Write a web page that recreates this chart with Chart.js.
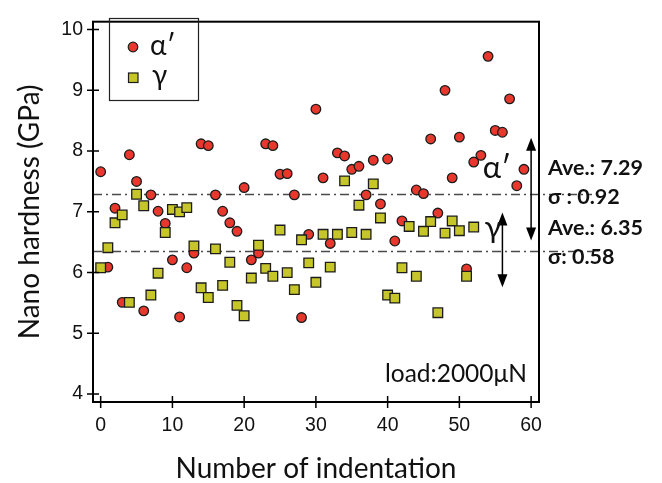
<!DOCTYPE html>
<html lang="en">
<head>
<meta charset="UTF-8" />
<title>Nano hardness</title>
<script src="https://cdn.jsdelivr.net/npm/chart.js@4.4.1/dist/chart.umd.min.js"></script>
<style>
  html, body { margin: 0; padding: 0; background: #fff; }
  canvas { display: block; }
</style>
</head>
<body>
<canvas id="chart" width="662" height="483"></canvas>
<script>
  // hardness per indentation number (index = indentation no.), null = no point
  const alphaHardness = [7.66, 6.09, 7.06, 5.51, 7.94, 7.50, 5.37, 7.28, 7.01, 6.81,
    6.21, 5.27, 6.08, 6.32, 8.12, 8.09, 7.28, 7.01, 6.82, 6.68,
    7.40, 6.21, 6.32, 8.12, 8.09, 7.62, 7.63, 7.28, 5.26, 6.63,
    8.69, 7.56, 6.48, 7.97, 7.92, 7.70, 7.75, 7.28, 7.85, 7.13,
    7.87, 6.52, 6.85, null, 7.36, 7.30, 8.20, 6.98, 9.00, 7.56,
    8.23, 6.06, 7.82, 7.93, 9.56, 8.34, 8.31, 8.86, 7.43, 7.70];
  const gammaHardness = [6.08, 6.41, 6.82, 6.95, 5.51, 7.29, 7.10, 5.63, 5.99, 6.66,
    7.04, 7.00, 7.07, 6.44, 5.75, 5.59, 6.39, 5.79, 6.17, 5.46,
    5.29, 5.91, 6.45, 6.07, 5.94, 6.70, 6.00, 5.72, 6.54, 6.16,
    5.84, 6.63, 6.09, 6.63, 7.51, 6.66, 7.11, 6.63, 7.46, 6.90,
    5.63, 5.58, 6.08, 6.76, 5.94, 6.68, 6.84, 5.34, 6.65, 6.85,
    6.69, 5.94, 6.75];
  const xTicks = [0, 10, 20, 30, 40, 50, 60];
  const yTicks = [4, 5, 6, 7, 8, 9, 10];
  const phaseLabels = ["α′", "γ"];
  const averages = [7.29, 6.35];
  const sigmas = [0.92, 0.58];
  const arrowX = [60, 56];
  const arrowSpan = [[8.22, 6.53], [6.99, 5.76]];

  const RED = "#e8372c";
  const YELLOW = "#c6c62a";
  const EDGE = "#1c1c1c";
  const FONT = "Lato, 'Open Sans', sans-serif";

  const toPoints = arr => arr.map((v, i) => ({ x: i, y: v })).filter(p => p.y !== null);

  function arrow(ctx, x, y1, y2) {
    ctx.beginPath();
    ctx.moveTo(x, y1 + 10);
    ctx.lineTo(x, y2 - 10);
    ctx.stroke();
    [[y1, 1], [y2, -1]].forEach(([y, d]) => {
      ctx.beginPath();
      ctx.moveTo(x, y);
      ctx.lineTo(x - 5, y + 13 * d);
      ctx.lineTo(x + 5, y + 13 * d);
      ctx.closePath();
      ctx.fill();
    });
  }

  const decor = {
    id: "decor",
    beforeDatasetsDraw(chart) {
      const { ctx, chartArea: a, scales: { y } } = chart;
      ctx.save();
      ctx.strokeStyle = "#4a4a4a";
      ctx.lineWidth = 1.5;
      ctx.setLineDash([9, 4, 2, 4]);
      averages.forEach(v => {
        const py = Math.round(y.getPixelForValue(v)) + 0.5;
        ctx.beginPath();
        ctx.moveTo(a.left, py);
        ctx.lineTo(592, py);
        ctx.stroke();
      });
      ctx.restore();
    },
    afterDraw(chart) {
      const { ctx, chartArea: a, scales: { x, y } } = chart;
      ctx.save();
      // frame
      ctx.strokeStyle = "#000";
      ctx.lineWidth = 2;
      ctx.strokeRect(a.left, a.top, a.right - a.left, a.bottom - a.top);
      // ticks crossing the axes
      ctx.lineWidth = 1.5;
      ctx.beginPath();
      yTicks.forEach(v => {
        const py = y.getPixelForValue(v);
        ctx.moveTo(a.left - 6, py); ctx.lineTo(a.left + 6, py);
      });
      xTicks.forEach(v => {
        const px = x.getPixelForValue(v);
        ctx.moveTo(px, a.bottom - 6); ctx.lineTo(px, a.bottom + 6);
      });
      ctx.stroke();

      // legend box
      ctx.lineWidth = 1.2;
      ctx.strokeStyle = "#222";
      ctx.strokeRect(109.5, 18.5, 89, 82);
      ctx.fillStyle = RED;
      ctx.beginPath(); ctx.arc(133, 47, 4.8, 0, Math.PI * 2); ctx.fill();
      ctx.strokeStyle = EDGE; ctx.stroke();
      ctx.fillStyle = YELLOW;
      ctx.fillRect(128.5, 73, 9.5, 9.5);
      ctx.strokeRect(128.5, 73, 9.5, 9.5);
      ctx.fillStyle = "#111";
      ctx.font = "28px " + FONT;
      ctx.textBaseline = "middle";
      ctx.fillText(phaseLabels[0], 150, 46);
      ctx.fillText(phaseLabels[1], 152, 76);

      // arrows and phase labels
      ctx.lineWidth = 1.5;
      ctx.strokeStyle = "#000";
      ctx.fillStyle = "#000";
      arrowX.forEach((xv, i) => {
        arrow(ctx, x.getPixelForValue(xv), y.getPixelForValue(arrowSpan[i][0]), y.getPixelForValue(arrowSpan[i][1]));
      });
      ctx.font = "31px " + FONT;
      ctx.fillStyle = "#111";
      ctx.textAlign = "center";
      ctx.fillText(phaseLabels[0], 497, 168);
      ctx.fillText(phaseLabels[1], 493, 228);

      // statistics on the right
      ctx.textAlign = "left";
      ctx.font = "bold 21.5px " + FONT;
      averages.forEach((v, i) => {
        const top = 168 + i * 60;
        ctx.fillText("Ave.: " + v.toFixed(2), 548, top);
        ctx.fillText((i === 0 ? "σ : " : "σ: ") + sigmas[i].toFixed(2), 548, top + 29);
      });

      ctx.font = "24.5px " + FONT;
      ctx.fillText("load:2000μN", 385, 374);
      ctx.restore();
    }
  };

  new Chart(document.getElementById("chart"), {
    type: "scatter",
    data: {
      datasets: [
        {
          label: phaseLabels[1],
          data: toPoints(gammaHardness),
          pointStyle: "rect",
          pointRadius: 6.8,
          backgroundColor: YELLOW,
          borderColor: EDGE,
          borderWidth: 1.3,
          order: 0
        },
        {
          label: phaseLabels[0],
          data: toPoints(alphaHardness),
          pointStyle: "circle",
          pointRadius: 4.8,
          backgroundColor: RED,
          borderColor: EDGE,
          borderWidth: 1.3,
          order: 1
        }
      ]
    },
    options: {
      responsive: false,
      animation: false,
      events: [],
      layout: { padding: { top: 13, right: 123, left: 0, bottom: 0 } },
      plugins: { legend: { display: false }, tooltip: { enabled: false } },
      scales: {
        x: {
          type: "linear",
          min: -1.07,
          max: 61.1,
          afterBuildTicks: s => { s.ticks = xTicks.map(v => ({ value: v })); },
          afterFit: s => { s.height = 81; },
          grid: { display: false, drawTicks: false },
          border: { display: false },
          ticks: { color: "#111", padding: 12, font: { family: "'Liberation Sans', Arial", size: 19.5 } },
          title: {
            display: true,
            text: "Number of indentation",
            color: "#111",
            padding: 0,
            font: { family: FONT, size: 28, lineHeight: 1 }
          }
        },
        y: {
          min: 3.87,
          max: 10.13,
          afterBuildTicks: s => { s.ticks = yTicks.map(v => ({ value: v })); },
          afterFit: s => { s.width = 93; },
          grid: { display: false, drawTicks: false },
          border: { display: false },
          ticks: { color: "#111", padding: 10, font: { family: "'Liberation Sans', Arial", size: 19.5 } },
          title: {
            display: true,
            text: "Nano hardness (GPa)",
            color: "#111",
            padding: { top: 13, bottom: 0 },
            font: { family: FONT, size: 28, lineHeight: 1.2 }
          }
        }
      }
    },
    plugins: [decor]
  });
</script>
</body>
</html>
